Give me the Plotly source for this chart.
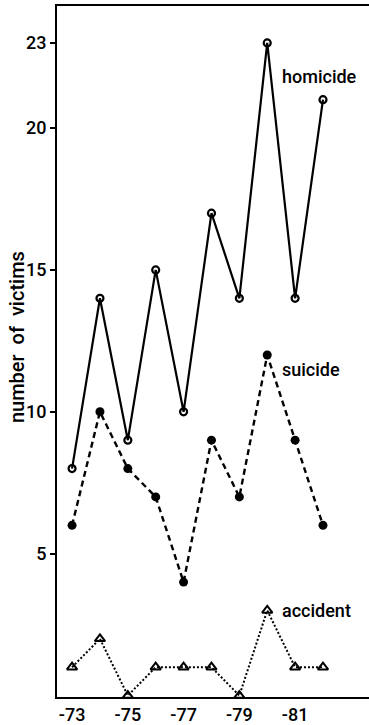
import plotly.graph_objects as go

years = [1973, 1974, 1975, 1976, 1977, 1978, 1979, 1980, 1981, 1982]
homicide = [8, 14, 9, 15, 10, 17, 14, 23, 14, 21]
suicide = [6, 10, 8, 7, 4, 9, 7, 12, 9, 6]
accident = [1, 2, 0, 1, 1, 1, 0, 3, 1, 1]

x_tick_vals = [1973, 1975, 1977, 1979, 1981]
x_tick_text = ["-73", "-75", "-77", "-79", "-81"]
y_tick_vals = [5, 10, 15, 20, 23]
y_tick_text = ["5", "10", "15", "20", "23"]
y_title = "number\u00a0\u00a0of\u00a0\u00a0victims"

FONT = "Roboto, sans-serif"

fig = go.Figure()
fig.add_trace(go.Scatter(
    x=years, y=homicide, mode="lines+markers", name="homicide",
    line=dict(color="black", width=2.2, dash="solid"),
    marker=dict(symbol="circle-open", size=7, color="black", line=dict(width=2.2)),
))
fig.add_trace(go.Scatter(
    x=years, y=suicide, mode="lines+markers", name="suicide",
    line=dict(color="black", width=2.4, dash="6px,4px"),
    marker=dict(symbol="circle", size=9, color="black"),
))
fig.add_trace(go.Scatter(
    x=years, y=accident, mode="lines+markers", name="accident",
    line=dict(color="black", width=2, dash="2px,2px"),
    marker=dict(symbol="triangle-up-open", size=9, color="black", line=dict(width=2)),
))

labels = [("homicide", 21.8), ("suicide", 11.5), ("accident", 3.0)]
for txt, yv in labels:
    fig.add_annotation(x=1980.45, y=yv, text=txt, showarrow=False, xanchor="left",
                       yanchor="middle",
                       font=dict(family=FONT, size=18, color="black", weight=500))

# y-axis title placed as a rotated annotation
fig.add_annotation(xref="paper", yref="paper", x=-0.128, y=0.521, text=y_title,
                   textangle=-90, showarrow=False, xanchor="center", yanchor="middle",
                   font=dict(family=FONT, size=20, color="black", weight=500))

fig.update_layout(
    width=369, height=725,
    margin=dict(l=57, r=0, t=6, b=24),
    paper_bgcolor="white", plot_bgcolor="white",
    showlegend=False,
    font=dict(family=FONT, color="black", size=18, weight=500),
    xaxis=dict(
        range=[1972.46, 1983.65], tickvals=x_tick_vals, ticktext=x_tick_text,
        showline=True, linecolor="black", linewidth=2, mirror=True,
        showgrid=False, zeroline=False, ticks="", tickfont=dict(size=18, weight=500),
    ),
    yaxis=dict(
        range=[-0.05, 24.3], tickvals=y_tick_vals, ticktext=y_tick_text,
        showline=True, linecolor="black", linewidth=2, mirror=False,
        showgrid=False, zeroline=False, ticks="outside", ticklen=5, tickwidth=2,
        tickcolor="black", tickfont=dict(size=18, weight=500),
    ),
)

fig.write_html("out.html")
